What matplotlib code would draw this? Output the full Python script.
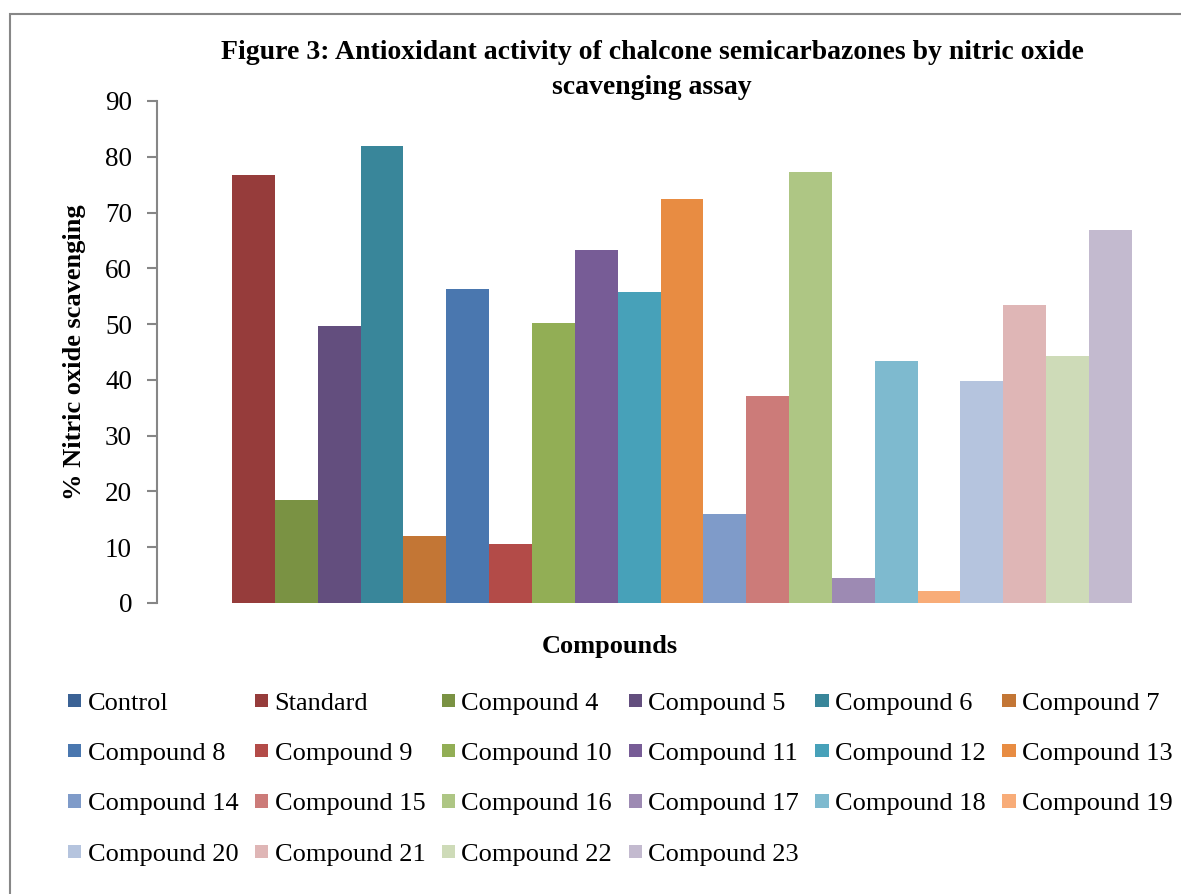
import matplotlib
matplotlib.use("Agg")
import matplotlib.pyplot as plt
from matplotlib.patches import Rectangle, Patch

plt.rcParams['font.family'] = ['Liberation Serif', 'DejaVu Serif']

# Data
names = ['Control', 'Standard'] + [f'Compound {i}' for i in range(4, 24)]
values = [0, 76.7, 18.5, 49.7, 81.9, 12.0, 56.3, 10.6, 50.2, 63.3, 55.8,
          72.4, 16.0, 37.1, 77.3, 4.5, 43.4, 2.2, 39.8, 53.4, 44.3, 66.9]
colors = ['#3B6295', '#963C3B', '#7A9243', '#634E7E', '#39869A', '#C37635',
          '#4A77AF', '#B34B48', '#92AE55', '#775C96', '#47A1B9', '#E88C42',
          '#7F9BC9', '#CC7B79', '#AEC684', '#9D8AB3', '#7EBACF', '#F8AC78',
          '#B5C4DE', '#DFB6B6', '#CEDBB8', '#C3BACF']
yticks = list(range(0, 91, 10))

W, H = 1181, 894
fig = plt.figure(figsize=(W / 100, H / 100), dpi=100)
ax = fig.add_axes([157 / W, 1 - 603 / H, (1164 - 157) / W, (603 - 101) / H])

# Excel-style clustered bars: gap width 150%
n = len(values)
bw = 1 / (n + 1.5)
handles = []
for i, (name, v, c) in enumerate(zip(names, values, colors)):
    x = (i - (n - 1) / 2) * bw
    ax.bar(x, v, width=bw, color=c, linewidth=0)
    handles.append(Patch(facecolor=c, edgecolor='none', label=name))

ax.set_xlim(-0.5, 0.5)
ax.set_ylim(0, 90)
ax.set_yticks(yticks)
ax.set_xticks([])
for s in ['top', 'right', 'bottom']:
    ax.spines[s].set_visible(False)
ax.spines['left'].set_color('#868686')
ax.spines['left'].set_linewidth(1.5)
ax.tick_params(axis='y', direction='out', length=7, width=1.5, color='#868686',
               labelsize=19.5, pad=11)

ax.set_ylabel('% Nitric oxide scavenging', fontsize=19, fontweight='bold', va='center')
ax.yaxis.set_label_coords((75 - 157) / (1164 - 157), 0.5)

fig.text(610 / W, 1 - 646 / H, 'Compounds', fontsize=19, fontweight='bold',
         ha='center', va='center')
fig.text(652 / W, 1 - 70 / H,
         'Figure 3: Antioxidant activity of chalcone semicarbazones by nitric oxide\nscavenging assay',
         fontsize=20, fontweight='bold', ha='center', va='center', linespacing=1.5)

# legend: row-major order in 6 columns
ncol = 6
order = [c + ncol * r for c in range(ncol) for r in range(4) if c + ncol * r < n]
fig.legend([handles[i] for i in order], [names[i] for i in order],
           ncol=ncol, loc='upper left', bbox_to_anchor=(68 / W, 1 - 693 / H),
           frameon=False, fontsize=19, handlelength=0.5, handleheight=0.4,
           handletextpad=0.25, columnspacing=0.62, labelspacing=1.07,
           borderpad=0, borderaxespad=0)

# outer chart border
fig.patches.append(Rectangle((10 / W, -0.1), 1.2, 1.1 - 14 / H, transform=fig.transFigure,
                             fill=False, edgecolor='#878787', linewidth=1.5))

fig.savefig('out.png', dpi=100)
